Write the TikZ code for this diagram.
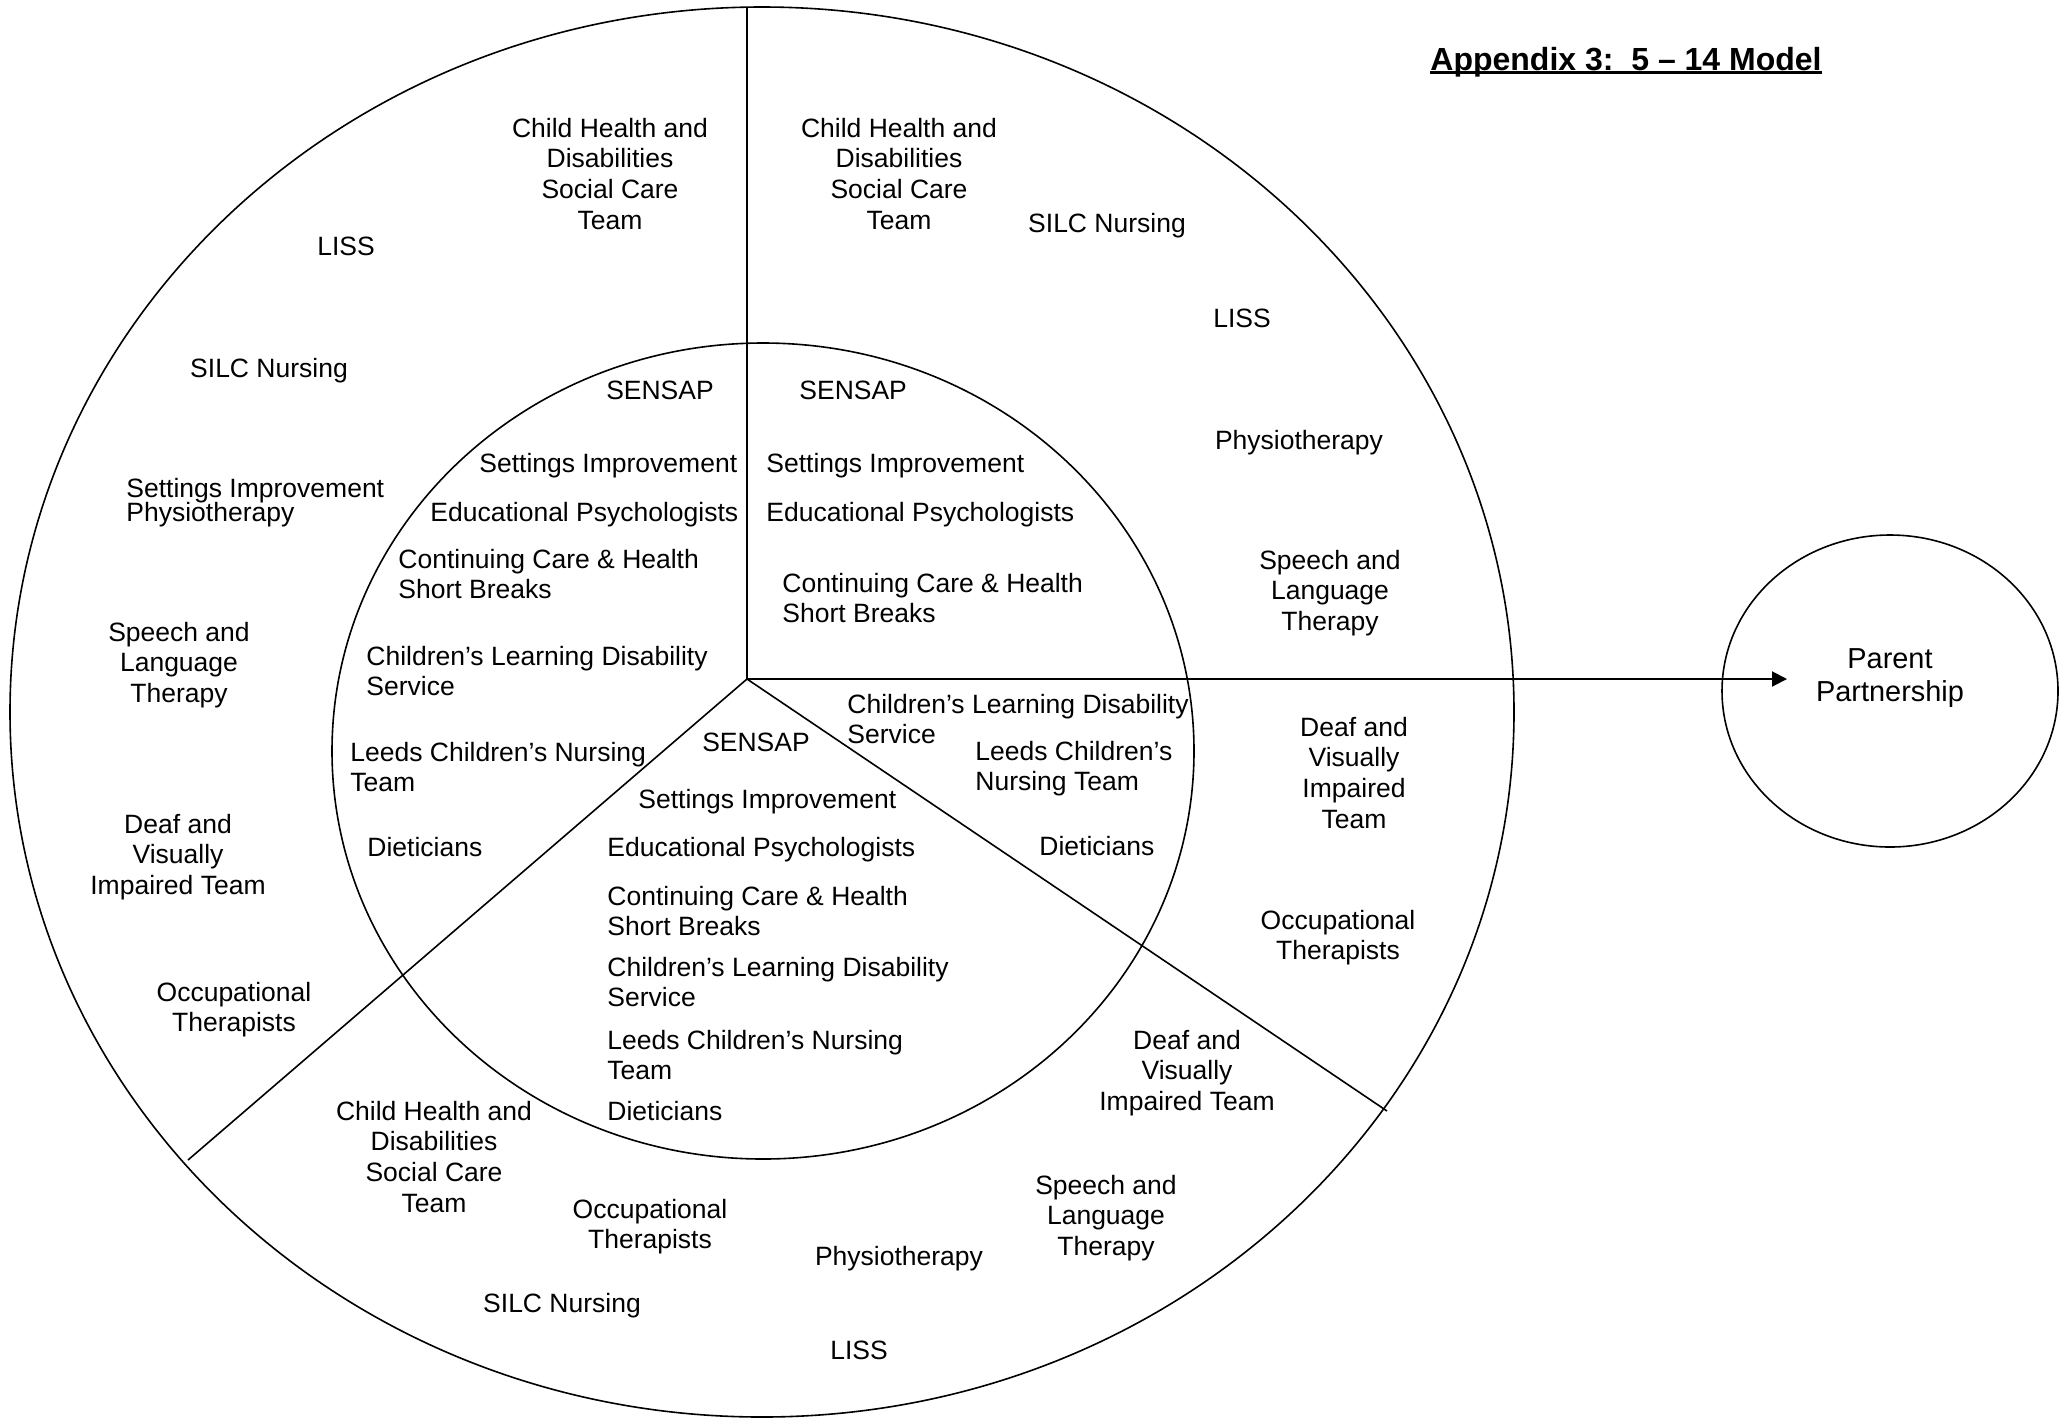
\documentclass[tikz,border=0pt]{standalone}
\usepackage{fontspec}
\setmainfont{Liberation Sans}
\usetikzlibrary{arrows.meta,shapes.geometric}
\begin{document}
\begin{tikzpicture}[x=0.5pt,y=-0.5pt,
  every node/.style={inner sep=0pt,font=\fontsize{13.25}{15.35}\selectfont},
  lbl/.style={align=center,anchor=north},
  lft/.style={align=left,anchor=north west},
  ring/.style={draw,line width=0.8pt},
  arr/.style={line width=1pt,-{Triangle[length=7.5pt,width=7.5pt]}}]
\useasboundingbox (0,0) rectangle (2071,1420);
% rings
\draw[ring] (762,712) ellipse [x radius=752, y radius=705];
\draw[ring] (763,751) ellipse [x radius=431, y radius=408];
% sector lines
\coordinate (ctr) at (747,679);
\coordinate (topend) at (747,7);
\coordinate (llend) at (188,1160);
\coordinate (lrend) at (1387,1111);
\coordinate (tip) at (1787,679);
\draw[ring] (topend) -- (ctr) -- (llend);
\draw[ring] (ctr) -- (lrend);
% parent partnership
\node[ellipse,draw,line width=0.8pt,minimum width=168pt,minimum height=156pt] (pp) at (1890,691) {};
\draw[arr] (ctr) -- (tip);
\node[lbl,font=\fontsize{14.45}{16.5}\selectfont] (ppt) at (1890,648.5) {Parent\\Partnership};
\begin{scope}[yshift=1pt]
% title
\node[anchor=base west,font=\fontsize{16}{19}\selectfont\bfseries] (title) at (1430,72) {Appendix 3:\ \ 5 – 14 Model};
\draw[line width=1.4pt] ([yshift=-1.4pt]title.base west) -- ([yshift=-1.4pt]title.base east);
% outer top-left
\node[lbl] (chdL) at (610,119.5) {Child Health and\\Disabilities\\Social Care\\Team};
\node[lbl] (lissL) at (346,238.5) {LISS};
\node[lbl] (silcL) at (269,359.5) {SILC Nursing};
\node[lft] (siL) at (126,479.5) {Settings Improvement};
\node[lft] (physL) at (126,503.5) {Physiotherapy};
\node[lbl] (sltL) at (179,623.5) {Speech and\\Language\\Therapy};
\node[lbl] (dviL) at (178,815.5) {Deaf and\\Visually\\Impaired Team};
\node[lbl] (otL) at (234,983.5) {Occupational\\Therapists};
% inner top-left
\node[lbl] (sensapA) at (660,382.5) {SENSAP};
\node[lft] (siA) at (479,454.5) {Settings Improvement};
\node[lft] (epA) at (430,503.5) {Educational Psychologists};
\node[lft] (ccA) at (398,550.5) {Continuing Care \& Health\\Short Breaks};
\node[lft] (cldA) at (366,647.5) {Children’s Learning Disability\\Service};
\node[lft] (lcnA) at (350,743.5) {Leeds Children’s Nursing\\Team};
\node[lft] (dietA) at (367,838.5) {Dieticians};
% inner top-right
\node[lft] (sensapB) at (799,382.5) {SENSAP};
\node[lft] (siB) at (766,454.5) {Settings Improvement};
\node[lft] (epB) at (766,503.5) {Educational Psychologists};
\node[lft] (ccB) at (782,574.5) {Continuing Care \& Health\\Short Breaks};
% inner lower-right
\node[lft] (cldC) at (847,695.5) {Children’s Learning Disability\\Service};
\node[lft] (lcnC) at (975,742.5) {Leeds Children’s\\Nursing Team};
\node[lft] (dietC) at (1039,837.5) {Dieticians};
% inner bottom
\node[lbl] (sensapD) at (756,734.5) {SENSAP};
\node[lft] (siD) at (638,790.5) {Settings Improvement};
\node[lft] (epD) at (607,838.5) {Educational Psychologists};
\node[lft] (ccD) at (607,887.5) {Continuing Care \& Health\\Short Breaks};
\node[lft] (cldD) at (607,958.5) {Children’s Learning Disability\\Service};
\node[lft] (lcnD) at (607,1031.5) {Leeds Children’s Nursing\\Team};
\node[lft] (dietD) at (607,1102.5) {Dieticians};
% outer bottom
\node[lbl] (chdD) at (434,1102.5) {Child Health and\\Disabilities\\Social Care\\Team};
\node[lbl] (otD) at (650,1200.5) {Occupational\\Therapists};
\node[lbl] (physD) at (899,1247.5) {Physiotherapy};
\node[lbl] (silcD) at (562,1294.5) {SILC Nursing};
\node[lbl] (lissD) at (859,1342.5) {LISS};
\node[lbl] (sltD) at (1106,1176.5) {Speech and\\Language\\Therapy};
\node[lbl] (dviD) at (1187,1031.5) {Deaf and\\Visually\\Impaired Team};
% outer top-right
\node[lbl] (chdB) at (899,119.5) {Child Health and\\Disabilities\\Social Care\\Team};
\node[lbl] (silcB) at (1107,214.5) {SILC Nursing};
\node[lbl] (lissB) at (1242,310.5) {LISS};
\node[lbl] (physB) at (1299,431.5) {Physiotherapy};
\node[lbl] (sltB) at (1330,551.5) {Speech and\\Language\\Therapy};
% outer lower-right
\node[lbl] (dviC) at (1354,718.5) {Deaf and\\Visually\\Impaired\\Team};
\node[lbl] (otC) at (1338,911.5) {Occupational\\Therapists};
\end{scope}
\end{tikzpicture}
\end{document}
